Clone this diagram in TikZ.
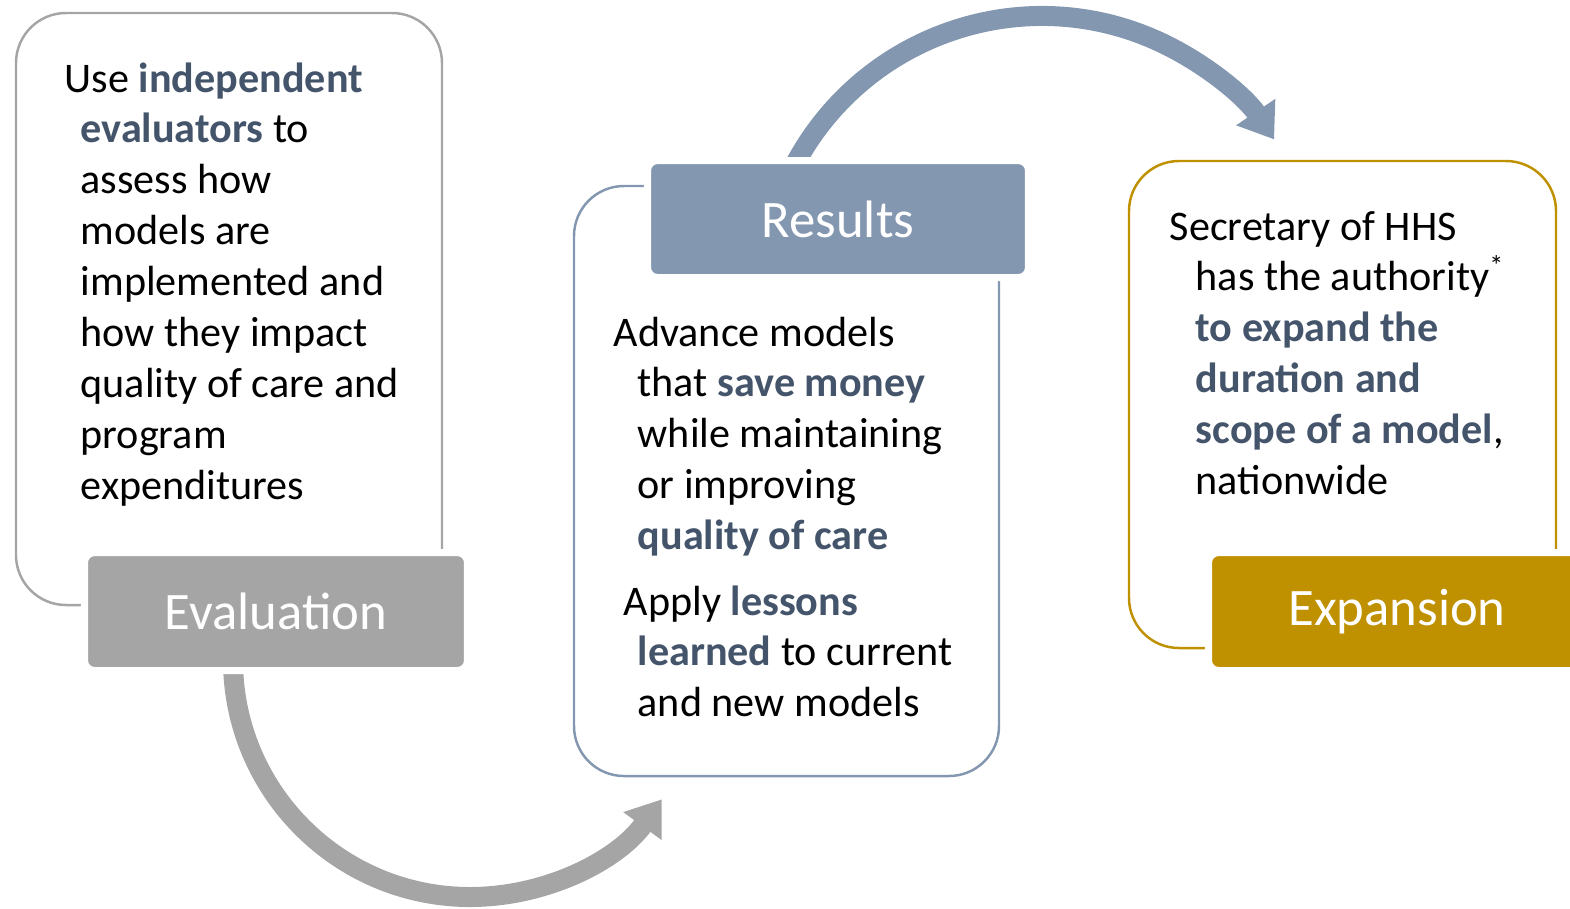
\documentclass[tikz,border=0pt]{standalone}
\usepackage{fontspec}
\setmainfont{Carlito}
\usetikzlibrary{arrows.meta,positioning,calc}
\definecolor{EvalGray}{HTML}{A5A5A5}
\definecolor{ResSlate}{HTML}{8497B0}
\definecolor{ExpGold}{HTML}{BF9000}
\definecolor{KeyBlue}{HTML}{44546A}
\newcommand{\keyword}[1]{\textbf{\color{KeyBlue}#1}}
\newcommand{\hangbox}[2]{\parbox[t]{5cm}{\hangindent=#1\hangafter=1 #2}}
\tikzset{
    panel/.style = {draw, line width=0.7pt, rounded corners=0.5cm},
    tag/.style = {draw=white, line width=2pt, rounded corners=0.1cm,
        text=white, font=\fontsize{15}{18}\selectfont},
    bodytext/.style = {anchor=base west, inner sep=0pt,
        font=\fontsize{12}{14.5}\selectfont},
    bigarrow/.style = {line width=0.2cm, -{Triangle[length=0.33cm,width=0.45cm]}}
}

\begin{document}
\begin{tikzpicture}
    \useasboundingbox (0,0) rectangle (15.70,-9.08);
    % curved arrows, drawn first so the tags cover their tails
    \coordinate (evalout) at (2.33,-6.60);
    \coordinate (resout) at ($(10.42,-2.96)+(155:2.80)$);
    \draw[bigarrow, EvalGray] (evalout) arc[start angle=180, end angle=324, radius=2.37];
    \draw[bigarrow, ResSlate] (resout) arc[start angle=155, end angle=34, radius=2.80];
    % outer panels
    \node[panel, draw=EvalGray, minimum width=4.26cm, minimum height=5.92cm] (evalpanel) at (2.29,-3.09) {};
    \node[panel, draw=ResSlate, minimum width=4.25cm, minimum height=5.90cm] (respanel) at (7.865,-4.81) {};
    \node[panel, draw=ExpGold, minimum width=4.27cm, minimum height=4.87cm] (exppanel) at (13.425,-4.045) {};
    % tags
    \node[tag, fill=EvalGray, minimum width=3.83cm, minimum height=1.18cm] (evaltag) at (2.76,-6.115) {Evaluation};
    \node[tag, fill=ResSlate, minimum width=3.81cm, minimum height=1.17cm] (restag) at (8.38,-2.19) {Results};
    \node[tag, fill=ExpGold, minimum width=3.77cm, minimum height=1.18cm] (exptag) at (13.97,-6.115) {Expansion};
    % panel texts
    \node[bodytext] (evaltext) at (0.64,-0.92) {\hangbox{0.16cm}{Use \keyword{independent}\newline
        \keyword{evaluators} to\newline assess how\newline models are\newline
        implemented and\newline how they impact\newline quality of care and\newline
        program\newline expenditures}};
    \node[bodytext] (restexta) at (6.13,-3.46) {\hangbox{0.24cm}{Advance models\newline
        that \keyword{save money}\newline while maintaining\newline or improving\newline
        \keyword{quality of care}}};
    \node[bodytext] (restextb) at (6.23,-6.15) {\hangbox{0.14cm}{Apply \keyword{lessons}\newline
        \keyword{learned} to current\newline and new models}};
    \node[bodytext] (exptext) at (11.69,-2.40) {\hangbox{0.26cm}{Secretary of HHS\newline
        has the authority\textsuperscript{*}\newline \keyword{to expand the}\newline
        \keyword{duration and}\newline \keyword{scope of a model},\newline nationwide}};
\end{tikzpicture}
\end{document}
